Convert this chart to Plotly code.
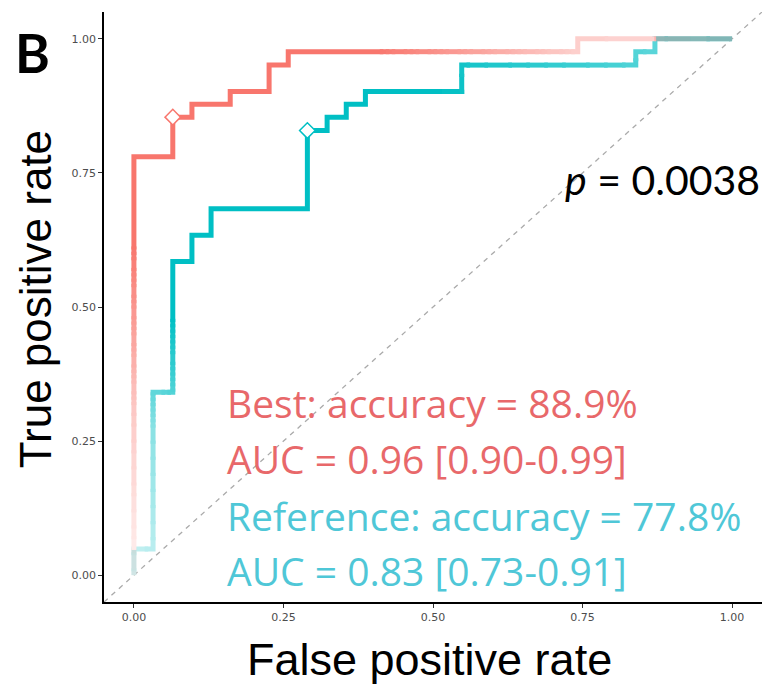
import numpy as np
import plotly.graph_objects as go

# ---------------- data ----------------
# ROC step vertices, "Best" model
best_fpr = [0.000, 0.000, 0.065, 0.065, 0.097, 0.097, 0.161, 0.161, 0.226, 0.226,
            0.258, 0.258, 0.742, 0.742, 1.000]
best_tpr = [0.000, 0.780, 0.780, 0.854, 0.854, 0.878, 0.878, 0.902, 0.902, 0.951,
            0.951, 0.976, 0.976, 1.000, 1.000]
# ROC step vertices, "Reference" model
ref_fpr = [0.000, 0.000, 0.032, 0.032, 0.065, 0.065, 0.097, 0.097, 0.129, 0.129,
           0.290, 0.290, 0.323, 0.323, 0.355, 0.355, 0.387, 0.387, 0.548, 0.548,
           0.839, 0.839, 0.871, 0.871, 1.000]
ref_tpr = [0.000, 0.049, 0.049, 0.341, 0.341, 0.585, 0.585, 0.634, 0.634, 0.683,
           0.683, 0.829, 0.829, 0.854, 0.854, 0.878, 0.878, 0.902, 0.902, 0.951,
           0.951, 0.976, 0.976, 1.000, 1.000]
# optimal cut-off points (fpr, tpr)
best_point = [0.065, 0.854]
ref_point = [0.290, 0.829]

tick_vals = [0.0, 0.25, 0.50, 0.75, 1.0]
tick_text = ["0.00", "0.25", "0.50", "0.75", "1.00"]

best_text = ["Best: accuracy = 88.9%", "AUC = 0.96 [0.90-0.99]"]
ref_text = ["Reference: accuracy = 77.8%", "AUC = 0.83 [0.73-0.91]"]
p_text = "<i>p</i> = 0.0038"

RED = (248, 118, 109)
TEAL = (0, 191, 196)


def on_path(x, y, xs, ys, tol=1e-6):
    for x0, y0, x1, y1 in zip(xs[:-1], ys[:-1], xs[1:], ys[1:]):
        if min(x0, x1) - tol <= x <= max(x0, x1) + tol and \
           min(y0, y1) - tol <= y <= max(y0, y1) + tol:
            return True
    return False


def add_curve(fig, xs, ys, rgb, s_ctrl, a_ctrl, other=None, n=200, eps=0.003):
    xs = np.asarray(xs, float)
    ys = np.asarray(ys, float)
    seg = np.hypot(np.diff(xs), np.diff(ys))
    cum = np.concatenate([[0.0], np.cumsum(seg)])
    L = cum[-1]
    edges = np.linspace(0, L, n + 1)
    # colour per piece
    cols = []
    for a0, b0 in zip(edges[:-1], edges[1:]):
        sm = 0.5 * (a0 + b0)
        a = float(np.interp(sm, s_ctrl, a_ctrl))
        a = round(a * 40) / 40.0
        mx, my = np.interp(sm, cum, xs), np.interp(sm, cum, ys)
        if other is not None and on_path(mx, my, *other):
            cols.append(f"rgba({rgb[0]},{rgb[1]},{rgb[2]},{a:.3f})")
        else:
            c = [int(round(a * v + (1 - a) * 255)) for v in rgb]
            cols.append(f"rgb({c[0]},{c[1]},{c[2]})")
    # merge runs of identical colour
    i = 0
    while i < n:
        j = i
        while j + 1 < n and cols[j + 1] == cols[i]:
            j += 1
        translucent = cols[i].startswith("rgba")
        e = 0.0 if translucent else eps
        a = max(0.0, edges[i] - e)
        b = min(L, edges[j + 1] + e)
        px = [np.interp(a, cum, xs)]
        py = [np.interp(a, cum, ys)]
        for k in np.where((cum > a) & (cum < b))[0]:
            px.append(xs[k])
            py.append(ys[k])
        px.append(np.interp(b, cum, xs))
        py.append(np.interp(b, cum, ys))
        fig.add_trace(go.Scatter(
            x=px, y=py, mode="lines",
            line=dict(color=cols[i], width=5),
            hoverinfo="skip", showlegend=False))
        i = j + 1


fig = go.Figure()

# reference curve (underneath)
add_curve(fig, ref_fpr, ref_tpr, TEAL,
          [0, 0.05, 0.3, 0.55, 1.4, 1.85, 2.0],
          [0.2, 0.25, 0.45, 1.0, 1.0, 0.65, 0.7])
# best curve on top (translucent where it lies on the reference curve)
add_curve(fig, best_fpr, best_tpr, RED,
          [0, 0.3, 0.62, 1.38, 1.72, 2.0],
          [0.1, 0.38, 1.0, 1.0, 0.35, 0.3],
          other=(ref_fpr, ref_tpr))

# cut-off markers
fig.add_trace(go.Scatter(x=[ref_point[0]], y=[ref_point[1]], mode="markers",
                         marker=dict(symbol="diamond", size=12, color="white",
                                     line=dict(color="rgb(0,191,196)", width=1.5)),
                         hoverinfo="skip", showlegend=False))
fig.add_trace(go.Scatter(x=[best_point[0]], y=[best_point[1]], mode="markers",
                         marker=dict(symbol="diamond", size=12, color="white",
                                     line=dict(color="rgb(248,118,109)", width=1.5)),
                         hoverinfo="skip", showlegend=False))

# chance diagonal
fig.add_shape(type="line", xref="x", yref="y", x0=-0.05, y0=-0.05, x1=1.05, y1=1.05,
              line=dict(color="#aaaaaa", width=1.3, dash="5px,5px"), layer="below")

ann_font = "'Open Sans', Lato, sans-serif"
red_txt = "#E8686A"
teal_txt = "#4FC7D7"
lines = [(best_text[0], red_txt, 0.322), (best_text[1], red_txt, 0.218),
         (ref_text[0], teal_txt, 0.112), (ref_text[1], teal_txt, 0.009)]
for txt, col, yy in lines:
    fig.add_annotation(x=0.152, y=yy, xref="x", yref="y", text=txt, showarrow=False,
                       xanchor="left", yanchor="middle",
                       font=dict(family=ann_font, size=39, color=col))

fig.add_annotation(x=1.05, y=0.738, xref="x", yref="y", text=p_text, showarrow=False,
                   xanchor="right", yanchor="middle",
                   font=dict(family="Lato, sans-serif", size=41, color="black"))

# axis titles and panel label
fig.add_annotation(x=0.4954, y=-0.098, xref="paper", yref="paper", text="False positive rate",
                   showarrow=False, xanchor="center", yanchor="middle",
                   font=dict(family="Liberation Sans, Arial, sans-serif", size=45, color="black"))
fig.add_annotation(x=-0.105, y=0.513, xref="paper", yref="paper", text="True positive rate",
                   showarrow=False, textangle=-90, xanchor="center", yanchor="middle",
                   font=dict(family="Liberation Sans, Arial, sans-serif", size=44, color="black"))
fig.add_annotation(x=-0.109, y=0.932, xref="paper", yref="paper", text="<b>B</b>",
                   showarrow=False, xanchor="center", yanchor="middle",
                   font=dict(family="Lato, sans-serif", size=53, color="black"))

axis_common = dict(range=[-0.05, 1.05], tickvals=tick_vals, ticktext=tick_text,
                   showgrid=False, zeroline=False, showline=True, linecolor="black",
                   linewidth=1.5, ticks="outside", ticklen=4, tickcolor="#333333",
                   tickwidth=1,
                   tickfont=dict(family="DejaVu Sans, sans-serif", size=11, color="#4d4d4d"))

fig.update_layout(
    width=766, height=686,
    margin=dict(l=104, r=4, t=12, b=84),
    plot_bgcolor="white", paper_bgcolor="white",
    xaxis=axis_common, yaxis=axis_common,
    showlegend=False,
)

fig.write_html("out.html", config={"displayModeBar": False},
               post_script="document.body.style.margin='0px';document.body.style.overflow='hidden';")
